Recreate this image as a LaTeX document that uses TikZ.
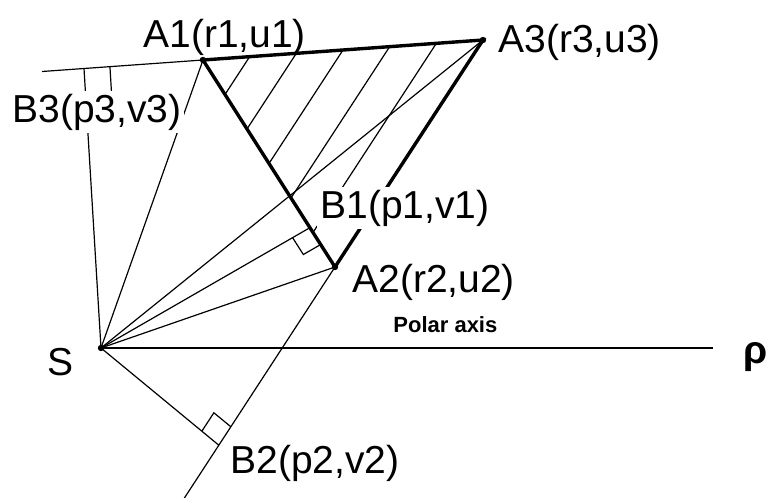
\documentclass[tikz,border=0pt]{standalone}
\usepackage{fontspec}
\setmainfont{Liberation Sans}
\usetikzlibrary{calc}

\begin{document}
\begin{tikzpicture}[x=0.5pt,y=-0.5pt,
    ray/.style={line width=0.6pt},
    edge/.style={line width=1.7pt},
    axis/.style={line width=1pt},
    lbl/.style={anchor=base west,inner sep=0pt,font=\fontsize{19.5}{22}\selectfont},
    cover/.style={lbl,fill=white,inner sep=1.5pt}]
    \useasboundingbox (0,0) rectangle (766,498);
    \coordinate (S) at (101,348);
    \coordinate (A1) at (203,60);
    \coordinate (A2) at (335,267);
    \coordinate (A3) at (483,40);
    \coordinate (P) at (713,348);
    \coordinate (L3) at ($(A3)!1.575!(A1)$);
    \coordinate (E2) at ($(A3)!2.02!(A2)$);
    \coordinate (B1) at ($(A1)!0.81!(A2)$);
    \coordinate (B2) at ($(A3)!1.785!(A2)$);
    \coordinate (B3) at ($(A3)!1.425!(A1)$);
    \foreach \p in {B3,A1,A3,B1,A2,B2}
        \draw[ray] (S) -- (\p);
    \foreach \k in {1,...,5}
        \draw[ray] ($(A1)!\k/6!(A3)$) -- ($(A1)!\k/6!(A2)$);
    \draw[ray] (L3) -- (A1);
    \draw[ray] (A2) -- (E2);
    \draw[edge] (A1) -- (A3) -- (A2) -- cycle;
    \draw[axis] (S) -- (P);
    \foreach \f/\a/\s in {B1/A2/10pt,B2/A2/11pt,B3/A1/13pt}
        \draw[ray] ($(\f)!\s!(S)$) -- ($(\f)!\s!(S) + (\f)!\s!(\a) - (\f)$) -- ($(\f)!\s!(\a)$);
    \foreach \p in {S,A1,A2,A3}
        \fill (\p) circle (1.6pt);
    \node[lbl] (a1lbl) at (143,47) {A1(r1,u1)};
    \node[lbl] (a3lbl) at (498,53) {A3(r3,u3)};
    \node[cover] (b3lbl) at (9,122) {B3(p3,v3)};
    \node[cover] (b1lbl) at (317,218) {B1(p1,v1)};
    \node[lbl] (a2lbl) at (352,292) {A2(r2,u2)};
    \node[lbl] (b2lbl) at (230,473) {B2(p2,v2)};
    \node[lbl] (slbl) at (47,375) {S};
    \node[lbl,font=\fontsize{19.5}{22}\selectfont\bfseries] (rho) at (743,363) {ρ};
    \node[lbl,font=\fontsize{11}{13}\selectfont\bfseries] (axislbl) at (393,332) {Polar axis};
\end{tikzpicture}
\end{document}
